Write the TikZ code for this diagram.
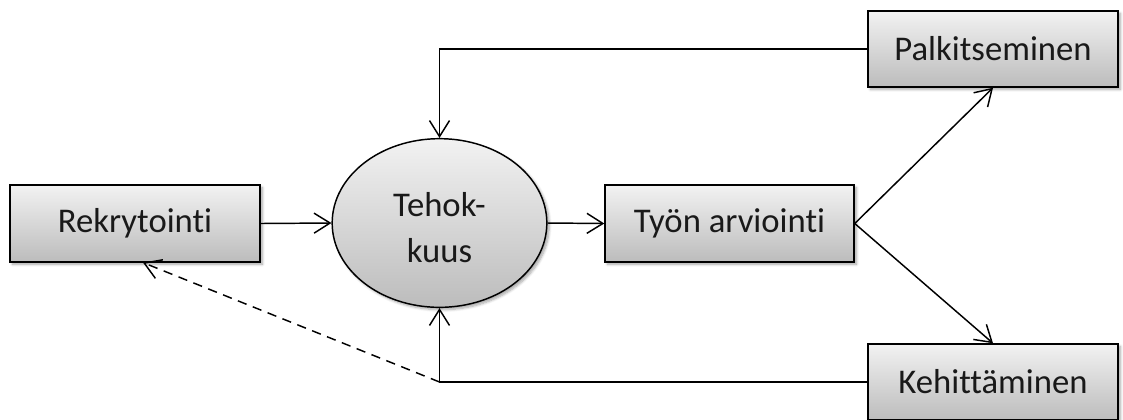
\documentclass[tikz,border=0pt]{standalone}
\usepackage{fontspec}
\setmainfont{Carlito}[Ligatures=NoCommon]
\usetikzlibrary{arrows.meta,shapes.geometric,shadows.blur}
\definecolor{shtop}{RGB}{242,242,242}
\definecolor{shbot}{RGB}{188,188,188}
\definecolor{txt}{RGB}{25,25,25}
\begin{document}
\begin{tikzpicture}[x=0.75pt,y=-0.75pt,
  every node/.style={font=\fontsize{26}{35}\selectfont, text=txt},
  boxnode/.style={draw=black, line width=1.1pt, rectangle, inner sep=0pt,
    minimum height=57.5pt, top color=shtop, bottom color=shbot,
    blur shadow={shadow xshift=1.8pt, shadow yshift=-1.8pt, shadow blur steps=6, shadow opacity=35}},
  ellnode/.style={draw=black, line width=1.1pt, ellipse, inner sep=0pt,
    minimum width=161pt, minimum height=126.5pt, top color=shtop, bottom color=shbot,
    blur shadow={shadow xshift=1.8pt, shadow yshift=-1.8pt, shadow blur steps=6, shadow opacity=35}},
  elltext/.style={align=center, inner sep=0pt},
  conn/.style={draw=black, line width=1.1pt, -{Straight Barb[length=12pt, width=15pt, line width=1.1pt]}},
  dconn/.style={conn, dashed, dash pattern=on 7pt off 5pt}
]
\useasboundingbox (0,0) rectangle (1123,419);
\node[boxnode, minimum width=187.5pt] (rek) at (135,223.5) {Rekrytointi};
\node[ellnode] (ell) at (439.5,223) {};
\node[elltext] (elltxt) at ([yshift=-3.5pt]ell.center) {Tehok-\\kuus};
\node[boxnode, minimum width=186.75pt] (tyo) at (729.5,223.5) {Työn arviointi};
\node[boxnode, minimum width=187.5pt, minimum height=57pt] (palk) at (993,49) {Palkitseminen};
\node[boxnode, minimum width=187.5pt, minimum height=57pt] (keh) at (993,382) {Kehittäminen};
\coordinate (corner) at (ell.south |- keh.west);
\coordinate (rektip) at ([xshift=6pt]rek.south);
\draw[conn] (rek.east) -- (ell.west);
\draw[conn] (ell.east) -- (tyo.west);
\draw[conn] (tyo.east) -- (palk.south);
\draw[conn] (tyo.east) -- (keh.north);
\draw[conn] (palk.west) -| (ell.north);
\draw[conn] (keh.west) -| (ell.south);
\draw[dconn] (corner) -- (rektip);
\end{tikzpicture}
\end{document}
